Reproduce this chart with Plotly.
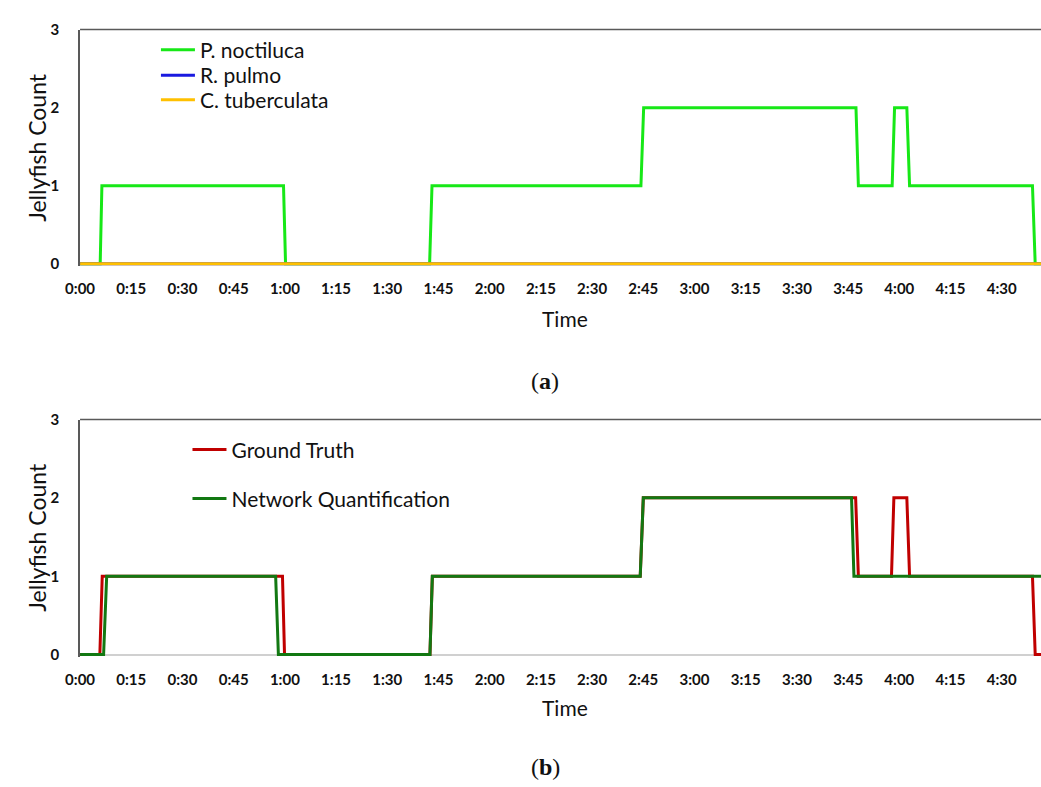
import plotly.graph_objects as go

# ---------------- data (minutes since 0:00, counts) ----------------
noct_t = [0, 5.9, 6.4, 59.6, 60.2, 102.4, 103.1, 164.3, 165.1, 227.3, 228.0,
          237.9, 238.6, 242.2, 243.0, 279.0, 279.8, 281.5]
noct_v = [0, 0, 1, 1, 0, 0, 1, 1, 2, 2, 1, 1, 2, 2, 1, 1, 0, 0]

pulmo_t = [0, 281.5]
pulmo_v = [0, 0]

tuber_t = [0, 281.5]
tuber_v = [0, 0]

truth_t = [0, 5.8, 6.5, 59.3, 59.9, 102.5, 103.2, 164.1, 165.0, 227.2, 228.0,
           237.7, 238.4, 242.2, 243.0, 279.0, 279.8, 281.5]
truth_v = [0, 0, 1, 1, 0, 0, 1, 1, 2, 2, 1, 1, 2, 2, 1, 1, 0, 0]

net_t = [0, 6.9, 7.8, 57.3, 58.1, 102.5, 103.2, 164.1, 165.0, 226.0, 226.7, 281.5]
net_v = [0, 0, 1, 1, 0, 0, 1, 1, 2, 2, 1, 1]

tick_minutes = [0, 15, 30, 45, 60, 75, 90, 105, 120, 135, 150, 165, 180,
                195, 210, 225, 240, 255, 270]
tick_labels = ["0:00", "0:15", "0:30", "0:45", "1:00", "1:15", "1:30", "1:45",
               "2:00", "2:15", "2:30", "2:45", "3:00", "3:15", "3:30", "3:45",
               "4:00", "4:15", "4:30"]
y_ticks = [0, 1, 2, 3]

# ---------------- layout geometry ----------------
W, H = 1041, 787
X0 = 66 / W
TOP_DOM = [1 - 261.4 / H, 1 - 20 / H]
BOT_DOM = [1 - 660.4 / H, 1 - 418 / H]

TEXT_FONT = "Lato, 'Open Sans', sans-serif"
TICK_FONT = dict(family=TEXT_FONT, size=15, color="#111111", weight="bold")
LEG_FONT = dict(family=TEXT_FONT, size=21, color="#111111")

fig = go.Figure()

# top panel
fig.add_trace(go.Scatter(x=noct_t, y=noct_v, mode="lines", name="P. noctiluca",
                         line=dict(color="#17E817", width=3), xaxis="x", yaxis="y",
                         legend="legend"))
fig.add_trace(go.Scatter(x=pulmo_t, y=pulmo_v, mode="lines", name="R. pulmo",
                         line=dict(color="#1A1AE0", width=3), xaxis="x", yaxis="y",
                         legend="legend2"))
fig.add_trace(go.Scatter(x=tuber_t, y=tuber_v, mode="lines", name="C. tuberculata",
                         line=dict(color="#FFC000", width=3), xaxis="x", yaxis="y",
                         legend="legend3"))

# bottom panel
fig.add_trace(go.Scatter(x=truth_t, y=truth_v, mode="lines", name="Ground Truth",
                         line=dict(color="#C00000", width=3), xaxis="x2", yaxis="y2",
                         legend="legend4"))
fig.add_trace(go.Scatter(x=net_t, y=net_v, mode="lines", name="Network Quantification",
                         line=dict(color="#127812", width=3), xaxis="x2", yaxis="y2",
                         legend="legend5"))

xaxis_common = dict(
    domain=[X0, 1], range=[0, 281.5], tickmode="array",
    tickvals=tick_minutes, ticktext=tick_labels, showgrid=False, zeroline=False,
    showline=False, ticks="", tickfont=TICK_FONT, ticklabelstandoff=12,
)
yaxis_common = dict(
    range=[-0.03, 3], tickmode="array", tickvals=y_ticks, showgrid=False,
    zeroline=True, zerolinecolor="#D0D0D0", zerolinewidth=2,
    showline=True, linecolor="#595959", linewidth=1.5, ticks="",
    tickfont=TICK_FONT, ticklabelstandoff=16,
)


def leg(x_px, y_px):
    return dict(x=x_px / W, y=1 - y_px / H, xanchor="left", yanchor="middle",
                bgcolor="rgba(0,0,0,0)", font=LEG_FONT, itemwidth=34)


fig.update_layout(
    width=W, height=H,
    margin=dict(l=0, r=0, t=0, b=0),
    paper_bgcolor="white", plot_bgcolor="white",
    xaxis=dict(anchor="y", **xaxis_common),
    yaxis=dict(domain=TOP_DOM, anchor="x", **yaxis_common),
    xaxis2=dict(anchor="y2", **xaxis_common),
    yaxis2=dict(domain=BOT_DOM, anchor="x2", **yaxis_common),
    legend=leg(143, 41),
    legend2=leg(143, 67),
    legend3=leg(143, 92),
    legend4=leg(175, 449),
    legend5=leg(175, 499),
    showlegend=True,
)

# plot-area top borders
for xr, yr in (("x", "y"), ("x2", "y2")):
    fig.add_shape(type="line", xref=f"{xr} domain", yref=f"{yr} domain",
                  x0=0, x1=1, y0=1, y1=1, line=dict(color="#595959", width=1.5))

annots = [
    dict(text="Jellyfish Count", x=22 / W, y=1 - 140 / H, textangle=-90, size=23, fam=TEXT_FONT),
    dict(text="Jellyfish Count", x=22 / W, y=1 - 538 / H, textangle=-90, size=23, fam=TEXT_FONT),
    dict(text="Time", x=558 / W, y=1 - 315 / H, textangle=0, size=21, fam=TEXT_FONT),
    dict(text="Time", x=558 / W, y=1 - 712 / H, textangle=0, size=21, fam=TEXT_FONT),
    dict(text="(<b>a</b>)", x=538 / W, y=1 - 379 / H, textangle=0, size=24,
         fam="'Liberation Serif', 'DejaVu Serif', serif"),
    dict(text="(<b>b</b>)", x=538 / W, y=1 - 773 / H, textangle=0, size=24,
         fam="'Liberation Serif', 'DejaVu Serif', serif"),
]
for a in annots:
    fig.add_annotation(text=a["text"], x=a["x"], y=a["y"], xref="paper", yref="paper",
                       xanchor="center", yanchor="middle", showarrow=False,
                       textangle=a["textangle"],
                       font=dict(family=a["fam"], size=a["size"], color="#111111"))

fig.write_html("out.html", config={"displayModeBar": False},
               post_script="document.body.style.margin='0';document.body.style.overflow='hidden';")
